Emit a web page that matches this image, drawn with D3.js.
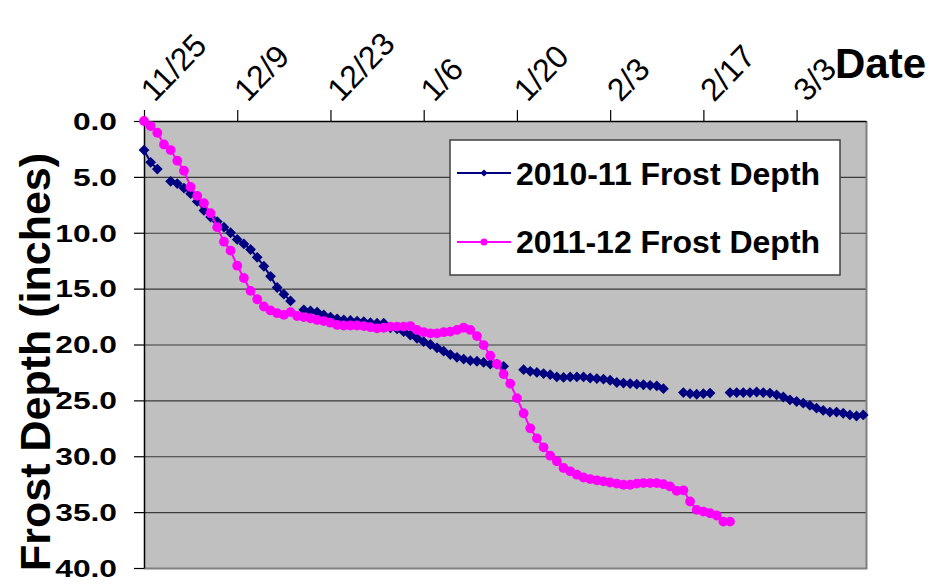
<!DOCTYPE html>
<html><head><meta charset="utf-8">
<script src="https://cdn.jsdelivr.net/npm/d3@7"></script>
<style>html,body{margin:0;padding:0;background:#fff;}svg{display:block;font-family:"Liberation Sans",Arial,sans-serif;}</style>
</head><body><svg id="c" width="939" height="584"></svg>
<script>
// ---- data (day index 0 = 11/25) ----
const seasonStart = Date.UTC(2010, 10, 25);
const tickLabels = ["11/25","12/9","12/23","1/6","1/20","2/3","2/17","3/3"];
const yTicks = [0,5,10,15,20,25,30,35,40];
const seriesNames = ["2010-11 Frost Depth","2011-12 Frost Depth"];
const depth2010 = [2.6,3.7,4.3,null,5.4,5.6,6.0,6.5,7.2,8.0,8.6,9.0,9.5,10.0,10.6,11.0,11.5,12.2,13.0,13.9,14.9,15.5,16.1,null,16.9,17.0,17.1,17.35,17.55,17.7,17.8,17.85,17.9,17.95,18.05,18.1,18.1,18.5,18.6,18.85,19.15,19.45,19.75,20.0,20.3,20.6,20.9,21.15,21.3,21.45,21.5,21.6,21.75,21.75,21.95,null,null,22.25,22.4,22.5,22.6,22.7,22.9,22.95,22.9,22.9,22.9,23.0,23.05,23.1,23.2,23.4,23.45,23.5,23.55,23.6,23.65,23.7,23.95,null,null,24.3,24.4,24.45,24.4,24.35,null,null,24.3,24.3,24.3,24.3,24.25,24.3,24.35,24.5,24.7,24.95,25.1,25.25,25.45,25.7,25.9,26.05,26.05,26.15,26.3,26.4,26.3];
const depth2011 = [0.0,0.45,1.05,2.1,2.6,3.55,4.45,5.9,6.7,7.35,8.25,9.5,10.8,11.6,12.95,14.05,15.2,15.95,16.6,16.95,17.2,17.35,17.1,17.45,17.55,17.65,17.8,17.9,18.05,18.25,18.3,18.3,18.3,18.35,18.45,18.55,18.5,18.4,18.4,18.4,18.35,18.7,18.9,19.0,19.0,18.9,18.85,18.7,18.5,18.7,19.25,20.05,21.0,21.75,22.65,23.5,24.8,26.15,27.5,28.4,29.2,29.95,30.45,31.05,31.35,31.65,31.9,32.05,32.15,32.25,32.35,32.45,32.55,32.55,32.45,32.4,32.4,32.4,32.5,32.7,33.1,33.05,34.05,34.8,34.95,35.1,35.3,35.85,35.85];

const dayMs = 86400000;
const toDate = i => new Date(seasonStart + i * dayMs);
const tickDates = tickLabels.map((_, i) => toDate(i * 14));

const svg = d3.select("#c");
const x = d3.scaleUtc().domain([toDate(0), new Date(seasonStart + 108.42 * dayMs)]).range([144, 866]);
const y = d3.scaleLinear().domain([0, 40]).range([121, 568]);

// plot area
svg.append("rect").attr("x", x.range()[0]).attr("y", y(0))
  .attr("width", x.range()[1] - x.range()[0]).attr("height", y(40) - y(0))
  .attr("fill", "#c0c0c0");
// gridlines
svg.append("g").selectAll("line").data(yTicks.slice(1, -1)).join("line")
  .attr("x1", x.range()[0]).attr("x2", x.range()[1])
  .attr("y1", d => y(d) + 0.5).attr("y2", d => y(d) + 0.5)
  .attr("stroke", "#3a3a3a").attr("stroke-width", 1.2);
// right & bottom border
svg.append("path")
  .attr("d", `M${x.range()[1]+0.5},${y(0)} V${y(40)+0.5} H${x.range()[0]}`)
  .attr("fill", "none").attr("stroke", "#808080").attr("stroke-width", 2);

// axes
const xAxis = svg.append("g").attr("transform", `translate(0,${y(0)})`)
  .call(d3.axisTop(x).tickValues(tickDates).tickSize(11).tickSizeOuter(0).tickFormat((d, i) => tickLabels[i]));
xAxis.select(".domain").attr("stroke", "#000").attr("stroke-width", 1.5);
xAxis.selectAll(".tick line").attr("stroke", "#000").attr("stroke-width", 1.2);
xAxis.selectAll(".tick text")
  .attr("font-size", 32).attr("font-family", "Liberation Sans, Arial, sans-serif")
  .attr("fill", "#000").attr("text-anchor", "start")
  .attr("y", 0).attr("dy", 0)
  .attr("transform", "translate(10,-18) rotate(-46)");

const yAxis = svg.append("g").attr("transform", `translate(${x.range()[0]},0)`)
  .call(d3.axisLeft(y).tickValues(yTicks).tickSize(10).tickSizeOuter(0).tickFormat(d3.format(".1f")));
yAxis.select(".domain").attr("stroke", "#000").attr("stroke-width", 1.5);
yAxis.selectAll(".tick line").attr("stroke", "#000").attr("stroke-width", 1.2);
yAxis.selectAll(".tick text")
  .attr("font-size", 23).attr("font-weight", "bold").attr("font-family", "Liberation Sans, Arial, sans-serif")
  .attr("fill", "#000").attr("x", 0).attr("dy", "0.36em")
  .attr("transform", "translate(-27,0) scale(1.38,1)");

// axis titles
svg.append("text").attr("transform", "translate(50,362) rotate(-90)")
  .attr("text-anchor", "middle").attr("font-size", 43).attr("font-weight", "bold")
  .text("Frost Depth (inches)");
svg.append("text").attr("x", 835).attr("y", 78).attr("font-size", 42).attr("font-weight", "bold")
  .text("Date");

// series
const diamond = "M0,-5.4L5.4,0L0,5.4L-5.4,0Z";
const line = d3.line().defined(d => d.v != null).x(d => x(d.t)).y(d => y(d.v));
const s1 = depth2010.map((v, i) => ({t: toDate(i), v}));
const s2 = depth2011.map((v, i) => ({t: toDate(i), v}));

svg.append("path").datum(s1).attr("d", line).attr("fill", "none")
  .attr("stroke", "#000080").attr("stroke-width", 2);
svg.append("g").selectAll("path").data(s1.filter(d => d.v != null)).join("path")
  .attr("d", diamond).attr("transform", d => `translate(${x(d.t)},${y(d.v)})`)
  .attr("fill", "#000080");

svg.append("path").datum(s2).attr("d", line).attr("fill", "none")
  .attr("stroke", "#ff00ff").attr("stroke-width", 2);
svg.append("g").selectAll("circle").data(s2).join("circle")
  .attr("cx", d => x(d.t)).attr("cy", d => y(d.v)).attr("r", 4.9)
  .attr("fill", "#ff00ff");

// legend
const lg = svg.append("g");
lg.append("rect").attr("x", 450).attr("y", 140).attr("width", 390).attr("height", 135)
  .attr("fill", "#fff").attr("stroke", "#404040").attr("stroke-width", 1.5);
const items = [
  {name: seriesNames[0], color: "#000080", type: "d", ly: 173, ty: 185},
  {name: seriesNames[1], color: "#ff00ff", type: "c", ly: 242, ty: 253}
];
items.forEach(it => {
  lg.append("line").attr("x1", 457).attr("x2", 511).attr("y1", it.ly).attr("y2", it.ly)
    .attr("stroke", it.color).attr("stroke-width", 2);
  if (it.type === "d") lg.append("path").attr("d", "M0,-3.6L3.6,0L0,3.6L-3.6,0Z")
    .attr("transform", `translate(484,${it.ly})`).attr("fill", it.color);
  else lg.append("circle").attr("cx", 484).attr("cy", it.ly).attr("r", 3.5).attr("fill", it.color);
  lg.append("text").attr("x", 516).attr("y", it.ty).attr("font-size", 32).attr("font-weight", "bold")
    .text(it.name);
});
</script></body></html>
